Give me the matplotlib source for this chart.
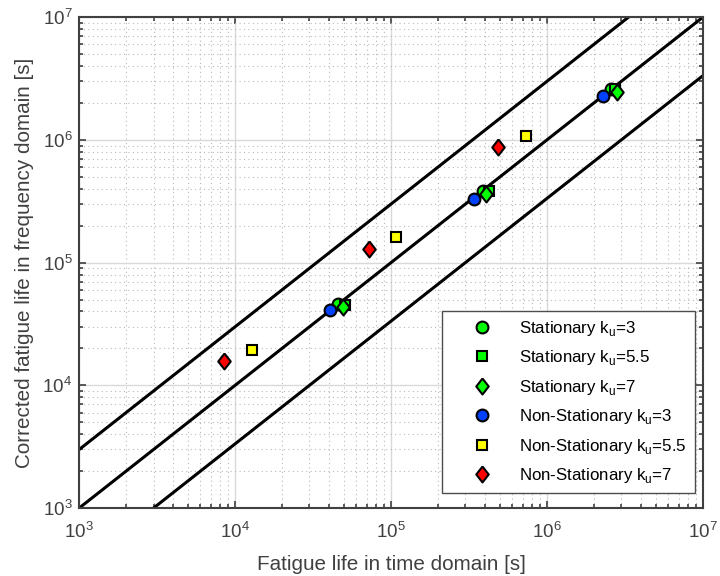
import numpy as np
import matplotlib
matplotlib.use("Agg")
import matplotlib.pyplot as plt
from matplotlib.ticker import LogLocator, NullFormatter

plt.rcParams['font.family'] = ['Liberation Sans', 'DejaVu Sans']
plt.rcParams['mathtext.fontset'] = 'custom'
plt.rcParams['mathtext.rm'] = 'Liberation Sans'

# datos (vida en dominio del tiempo, vida corregida en frecuencia)
st3_x = [4.55e4, 3.91e5, 2.59e6]
st3_y = [4.56e4, 3.83e5, 2.58e6]
st55_x = [5.1e4, 4.27e5, 2.75e6]
st55_y = [4.5e4, 3.85e5, 2.6e6]
st7_x = [4.9e4, 4.1e5, 2.82e6]
st7_y = [4.37e4, 3.66e5, 2.45e6]
ns3_x = [4.06e4, 3.4e5, 2.3e6]
ns3_y = [4.1e4, 3.31e5, 2.27e6]
ns55_x = [1.285e4, 1.08e5, 7.33e5]
ns55_y = [1.95e4, 1.62e5, 1.07e6]
ns7_x = [8.5e3, 7.23e4, 4.88e5]
ns7_y = [1.58e4, 1.29e5, 8.77e5]

# lineas de referencia: factor 3
factores = [3.0, 1.0, 1.0 / 3.0]
x_ref = [1e3, 1e7]

fig = plt.figure(figsize=(7.2, 5.76), dpi=100)
ax = fig.add_axes([0.110, 0.118, 0.866, 0.852])

for f in factores:
    ax.plot(x_ref, [f * v for v in x_ref], color='k', lw=2.2, zorder=2)

# rombo estilo MATLAB (mas alto que ancho)
rombo = [(0, 1), (0.78, 0), (0, -1), (-0.78, 0), (0, 1)]

sub = r'k$_{\mathregular{u}}$'
ms = 8.5
mew = 1.5
msd = 11.5
ax.plot(st3_x, st3_y, 'o', ms=ms, mfc=(0, 1, 0), mec='k', mew=mew, label='Stationary ' + sub + '=3', zorder=3)
ax.plot(st55_x, st55_y, 's', ms=ms - 1, mfc=(0, 1, 0), mec='k', mew=mew, label='Stationary ' + sub + '=5.5', zorder=3)
ax.plot(st7_x, st7_y, marker=rombo, ls='none', ms=msd, mfc=(0, 1, 0), mec='k', mew=mew, label='Stationary ' + sub + '=7', zorder=3)
ax.plot(ns3_x, ns3_y, 'o', ms=ms, mfc=(0, 0.25, 1), mec='k', mew=mew, label='Non-Stationary ' + sub + '=3', zorder=3)
ax.plot(ns55_x, ns55_y, 's', ms=ms - 1, mfc=(1, 1, 0), mec='k', mew=mew, label='Non-Stationary ' + sub + '=5.5', zorder=3)
ax.plot(ns7_x, ns7_y, marker=rombo, ls='none', ms=msd, mfc=(1, 0, 0), mec='k', mew=mew, label='Non-Stationary ' + sub + '=7', zorder=3)

ax.set_xscale('log')
ax.set_yscale('log')
ax.set_xlim(1e3, 1e7)
ax.set_ylim(1e3, 1e7)

gris = '0.25'
for axis in [ax.xaxis, ax.yaxis]:
    axis.set_major_locator(LogLocator(base=10, numticks=10))
    axis.set_minor_locator(LogLocator(base=10, subs=np.arange(2, 10), numticks=20))
    axis.set_minor_formatter(NullFormatter())

ax.grid(True, which='major', color='0.85', lw=1.0, ls='-', zorder=0)
ax.grid(True, which='minor', color='0.72', lw=0.8, ls=(0, (1, 3)), zorder=0)
ax.set_axisbelow(True)

ax.tick_params(which='both', direction='in', top=True, right=True, colors=gris, labelsize=13.5, width=1.2)
ax.tick_params(which='major', length=5)
ax.tick_params(which='minor', length=3)
ax.tick_params(axis='x', pad=10)
ax.tick_params(axis='y', pad=5)
for s in ax.spines.values():
    s.set_color(gris)
    s.set_linewidth(1.5)

ax.set_xlabel('Fatigue life in time domain [s]', fontsize=14.85, color=gris, labelpad=9)
ax.set_ylabel('Corrected fatigue life in frequency domain [s]', fontsize=14.85, color=gris, labelpad=6)

leg = ax.legend(loc='lower right', bbox_to_anchor=(0.987, 0.031), fontsize=12.2,
                fancybox=False, framealpha=1, edgecolor='0.3', labelspacing=0.62,
                handlelength=3.8, handletextpad=0.3, borderpad=0.45, borderaxespad=0)
leg.get_frame().set_linewidth(1.0)

fig.savefig('out.png', dpi=100)
